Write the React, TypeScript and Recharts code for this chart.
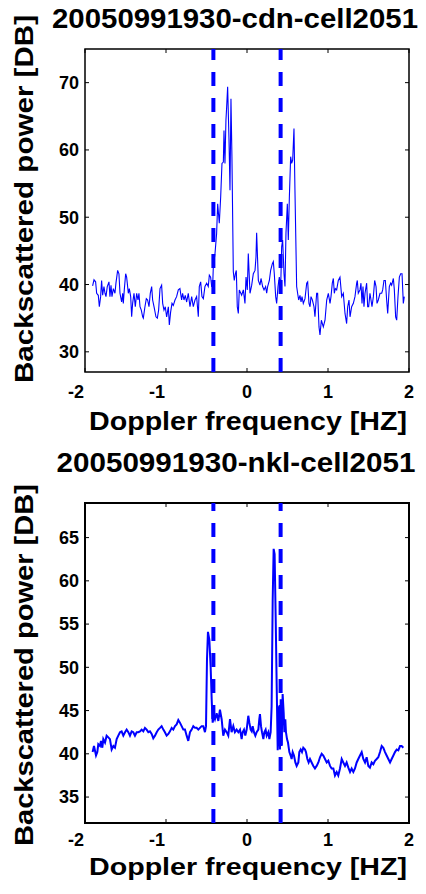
import React from "react"
import { LineChart, Line, XAxis, YAxis, ReferenceLine, ReferenceArea } from "recharts"

// top panel: cdn cell
const topFreq = [
  -1.906, -1.889, -1.869, -1.856, -1.836, -1.823, -1.807, -1.795, -1.782, -1.766,
  -1.753, -1.741, -1.725, -1.704, -1.692, -1.679, -1.667, -1.65, -1.63, -1.618,
  -1.597, -1.581, -1.568, -1.548, -1.535, -1.527, -1.515, -1.498, -1.486, -1.465,
  -1.453, -1.436, -1.424, -1.412, -1.395, -1.379, -1.362, -1.346, -1.334, -1.321,
  -1.305, -1.288, -1.28, -1.26, -1.243, -1.227, -1.21, -1.194, -1.177, -1.165,
  -1.148, -1.124, -1.107, -1.091, -1.074, -1.054, -1.041, -1.025, -1.009, -0.992,
  -0.971, -0.959, -0.943, -0.926, -0.91, -0.889, -0.869, -0.848, -0.828, -0.807,
  -0.795, -0.778, -0.762, -0.745, -0.725, -0.704, -0.683, -0.663, -0.642, -0.622,
  -0.601, -0.589, -0.572, -0.556, -0.539, -0.519, -0.498, -0.478, -0.465, -0.449,
  -0.436, -0.424, -0.416, -0.395, -0.375, -0.362, -0.342, -0.325, -0.309, -0.292,
  -0.284, -0.272, -0.26, -0.251, -0.239, -0.222, -0.21, -0.198, -0.186, -0.169,
  -0.157, -0.144, -0.132, -0.12, -0.107, -0.095, -0.066, -0.045, -0.025, -0.012,
  0.004, 0.016, 0.037, 0.058, 0.078, 0.099, 0.111, 0.119, 0.14, 0.16,
  0.173, 0.193, 0.21, 0.23, 0.243, 0.255, 0.276, 0.292, 0.313, 0.325,
  0.337, 0.354, 0.366, 0.383, 0.399, 0.416, 0.428, 0.44, 0.457, 0.469,
  0.481, 0.498, 0.51, 0.523, 0.539, 0.551, 0.564, 0.58, 0.592, 0.613,
  0.625, 0.638, 0.654, 0.667, 0.679, 0.695, 0.716, 0.737, 0.749, 0.765,
  0.778, 0.79, 0.807, 0.827, 0.839, 0.86, 0.872, 0.889, 0.901, 0.918,
  0.942, 0.963, 0.984, 1.004, 1.025, 1.037, 1.053, 1.066, 1.078, 1.09,
  1.107, 1.127, 1.148, 1.169, 1.189, 1.21, 1.23, 1.243, 1.259, 1.272,
  1.292, 1.313, 1.333, 1.354, 1.362, 1.374, 1.395, 1.407, 1.42, 1.432,
  1.444, 1.457, 1.477, 1.49, 1.502, 1.518, 1.531, 1.543, 1.56, 1.576,
  1.593, 1.605, 1.621, 1.642, 1.663, 1.675, 1.691, 1.708, 1.724, 1.737,
  1.757, 1.774, 1.786, 1.807, 1.819, 1.835, 1.848, 1.864, 1.881, 1.897,
  1.914, 1.93, 1.942,
]
const topPower = [
  39.8, 40.7, 40.4, 38.7, 38.4, 36.7, 38.2, 40.6, 38.4, 39.7,
  38.7, 38.2, 39.7, 40.4, 38.2, 39.9, 38.2, 39.4, 38.7, 40.2,
  42.1, 41.6, 38.7, 37.4, 38.7, 37.2, 39.2, 41.6, 41.1, 38.7,
  39.4, 38.2, 35.2, 37.2, 38.7, 36.7, 38.7, 37.7, 38.7, 36.7,
  36.2, 35.2, 35.0, 36.7, 37.9, 37.7, 36.7, 38.7, 39.7, 37.7,
  36.7, 35.2, 35.0, 36.2, 39.4, 39.9, 37.2, 36.2, 36.7, 35.2,
  36.7, 34.0, 35.9, 37.2, 36.9, 37.7, 38.2, 39.2, 39.4, 37.7,
  38.7, 37.7, 38.4, 37.4, 38.7, 36.7, 38.2, 36.7, 37.7, 38.2,
  35.2, 39.7, 40.4, 38.2, 37.9, 39.7, 40.2, 39.7, 41.4, 41.1,
  39.7, 39.7, 42.6, 44.6, 47.6, 52.0, 49.1, 53.0, 58.0, 58.2,
  62.9, 58.0, 64.4, 66.4, 69.4, 61.4, 54.0, 67.6, 59.0, 41.9,
  40.6, 41.6, 42.1, 36.7, 35.7, 39.2, 38.4, 39.2, 37.2, 41.1,
  39.2, 44.6, 38.7, 39.9, 41.6, 42.1, 44.1, 47.7, 40.6, 39.9,
  40.9, 39.7, 39.2, 39.7, 38.7, 39.7, 40.6, 42.1, 43.1, 43.4,
  41.6, 38.2, 37.2, 39.7, 41.1, 39.7, 45.6, 46.6, 41.6, 39.7,
  47.6, 52.0, 46.6, 53.0, 59.0, 58.0, 58.5, 63.2, 54.0, 39.7,
  38.7, 37.7, 38.4, 37.4, 38.2, 37.2, 37.9, 40.2, 40.4, 37.2,
  36.7, 38.2, 37.7, 36.7, 35.2, 38.7, 38.7, 33.7, 32.5, 34.7,
  33.7, 34.7, 37.7, 38.7, 37.2, 38.2, 40.2, 40.9, 38.7, 39.4,
  39.2, 40.6, 41.1, 38.2, 38.7, 35.7, 34.2, 36.7, 37.7, 35.2,
  36.7, 37.2, 38.2, 40.2, 40.6, 38.7, 39.2, 40.2, 37.2, 39.7,
  36.7, 38.7, 40.2, 36.7, 36.7, 38.7, 37.7, 36.7, 38.2, 40.6,
  39.7, 37.2, 37.7, 38.7, 38.7, 39.2, 40.6, 40.6, 37.7, 35.7,
  39.7, 40.2, 39.9, 40.9, 39.2, 35.2, 34.7, 38.2, 41.1, 41.6,
  41.6, 37.2, 38.2,
]

// bottom panel: nkl cell
const bottomFreq = [
  -1.906, -1.889, -1.864, -1.848, -1.836, -1.815, -1.803, -1.786, -1.774, -1.753,
  -1.733, -1.712, -1.692, -1.671, -1.65, -1.63, -1.609, -1.589, -1.568, -1.548,
  -1.527, -1.506, -1.486, -1.465, -1.445, -1.424, -1.404, -1.383, -1.362, -1.342,
  -1.321, -1.301, -1.28, -1.26, -1.239, -1.218, -1.198, -1.177, -1.157, -1.136,
  -1.115, -1.095, -1.074, -1.054, -1.033, -1.013, -0.992, -0.971, -0.951, -0.93,
  -0.91, -0.889, -0.869, -0.848, -0.828, -0.807, -0.786, -0.766, -0.745, -0.725,
  -0.704, -0.683, -0.663, -0.642, -0.622, -0.601, -0.581, -0.56, -0.539, -0.519,
  -0.506, -0.494, -0.482, -0.465, -0.449, -0.436, -0.424, -0.408, -0.395, -0.375,
  -0.354, -0.334, -0.313, -0.293, -0.272, -0.251, -0.231, -0.21, -0.19, -0.169,
  -0.149, -0.128, -0.107, -0.086, -0.066, -0.054, -0.037, -0.021, -0.004, 0.016,
  0.029, 0.045, 0.058, 0.07, 0.086, 0.103, 0.119, 0.14, 0.152, 0.16,
  0.173, 0.185, 0.202, 0.214, 0.23, 0.243, 0.263, 0.276, 0.292, 0.304,
  0.317, 0.329, 0.341, 0.354, 0.366, 0.379, 0.391, 0.399, 0.407, 0.416,
  0.428, 0.44, 0.453, 0.461, 0.473, 0.481, 0.494, 0.506, 0.523, 0.539,
  0.551, 0.564, 0.58, 0.597, 0.613, 0.634, 0.646, 0.663, 0.679, 0.695,
  0.716, 0.728, 0.745, 0.761, 0.778, 0.798, 0.819, 0.839, 0.86, 0.881,
  0.901, 0.922, 0.942, 0.963, 0.984, 1.004, 1.025, 1.045, 1.066, 1.086,
  1.107, 1.127, 1.148, 1.169, 1.189, 1.21, 1.23, 1.251, 1.272, 1.292,
  1.313, 1.333, 1.354, 1.374, 1.395, 1.416, 1.436, 1.457, 1.477, 1.498,
  1.518, 1.539, 1.56, 1.58, 1.601, 1.621, 1.642, 1.663, 1.683, 1.704,
  1.724, 1.745, 1.766, 1.786, 1.807, 1.827, 1.848, 1.868, 1.889, 1.909,
  1.93,
]
const bottomPower = [
  40.2, 40.9, 39.8, 40.2, 41.1, 40.9, 41.5, 40.7, 41.7, 41.3,
  42.1, 41.9, 41.7, 40.5, 40.9, 40.7, 41.7, 42.1, 42.5, 42.6,
  42.1, 42.5, 42.8, 42.5, 42.1, 42.6, 42.5, 42.1, 42.5, 42.5,
  42.6, 42.8, 42.6, 43.0, 42.8, 42.5, 42.6, 42.3, 41.8, 42.1,
  42.5, 42.8, 43.0, 43.2, 42.8, 42.5, 42.1, 42.3, 42.6, 43.0,
  42.8, 43.2, 43.4, 43.9, 43.6, 43.2, 42.8, 42.8, 42.1, 41.5,
  42.5, 42.8, 43.2, 43.0, 43.0, 42.8, 43.0, 43.2, 43.2, 42.5,
  43.2, 50.9, 54.1, 53.2, 50.1, 46.3, 43.6, 44.4, 44.0, 44.7,
  43.8, 45.1, 44.0, 42.1, 42.8, 42.5, 42.1, 44.0, 42.5, 43.2,
  42.5, 42.8, 42.5, 42.8, 41.7, 42.5, 42.8, 42.1, 42.8, 44.4,
  43.6, 42.8, 42.6, 43.2, 42.5, 42.1, 42.5, 42.8, 44.0, 44.6,
  43.2, 42.5, 41.7, 42.5, 42.8, 42.1, 42.5, 41.7, 42.5, 45.5,
  57.7, 63.7, 63.1, 55.8, 48.2, 40.4, 45.5, 42.5, 40.5, 46.3,
  40.9, 46.9, 44.7, 42.5, 44.0, 42.5, 41.7, 41.3, 40.2, 39.8,
  39.4, 40.2, 39.8, 39.0, 38.6, 39.0, 40.2, 40.5, 40.2, 40.7,
  40.5, 40.2, 39.4, 39.0, 39.4, 39.0, 38.6, 38.3, 38.6, 39.0,
  39.6, 40.0, 39.8, 39.4, 39.0, 39.2, 38.6, 38.3, 38.3, 37.5,
  37.9, 37.5, 38.3, 39.4, 39.0, 38.6, 39.0, 38.4, 37.9, 38.3,
  37.9, 38.3, 39.0, 39.4, 39.8, 40.2, 39.4, 39.0, 39.6, 38.6,
  38.4, 39.0, 38.8, 39.2, 39.4, 39.6, 40.2, 40.9, 40.7, 40.2,
  39.8, 39.4, 39.0, 39.4, 39.8, 40.2, 40.5, 40.4, 40.9, 40.9,
  40.7,
]

const freqTicks = [-2, -1, 0, 1, 2]
const topPowerTicks = [30, 40, 50, 60, 70]
const bottomPowerTicks = [35, 40, 45, 50, 55, 60, 65]
const markerFreqs = [-0.415, 0.415]

const topData = topFreq.map((f, i) => ({ f, p: topPower[i] }))
const bottomData = bottomFreq.map((f, i) => ({ f, p: bottomPower[i] }))

const FONT = "'Liberation Sans', Arial, Helvetica, sans-serif"
const BLUE = "#0000ff"
const W = 426
const H = 447
const AXIS = 20 // space given to each axis strip

const xTick = (plotTop: number, dy: number) => (props: any) => {
  const { x, y, payload } = props
  const v = payload.value
  return (
    <g>
      <line x1={x} x2={x} y1={y} y2={y - 4} stroke="#000" />
      <line x1={x} x2={x} y1={plotTop} y2={plotTop + 4} stroke="#000" />
      <text x={v < 0 ? x - 1 : x} y={y + dy} textAnchor={v < 0 ? "end" : "middle"}
        fontFamily={FONT} fontWeight="bold" fontSize={18} fill="#000">
        {String(v)}
      </text>
    </g>
  )
}

const yTick = (plotRight: number) => (props: any) => {
  const { x, y, payload } = props
  return (
    <g>
      <line x1={x} x2={x + 4} y1={y} y2={y} stroke="#000" />
      <line x1={plotRight - 4} x2={plotRight} y1={y} y2={y} stroke="#000" />
      <text x={x - 6} y={y} dy="0.35em" textAnchor="end"
        fontFamily={FONT} fontWeight="bold" fontSize={18} fill="#000">
        {payload.value}
      </text>
    </g>
  )
}

function Panel({ data, plot, yDomain, yTicks, lineWidth, boxWidth, dy }: any) {
  // plot = {top, bottom, left, right} in chart pixel coords
  const margin = {
    top: plot.top,
    right: W - plot.right,
    bottom: H - plot.bottom - AXIS,
    left: plot.left - AXIS,
  }
  return (
    <LineChart width={W} height={H} data={data} margin={margin}>
      <XAxis dataKey="f" type="number" domain={[-2, 2]} ticks={freqTicks} allowDataOverflow
        height={AXIS} axisLine={false} tickLine={false} tickSize={0} tickMargin={0}
        tick={xTick(plot.top, dy)} interval={0} />
      <YAxis type="number" domain={yDomain} ticks={yTicks} allowDataOverflow
        width={AXIS} axisLine={false} tickLine={false} tickSize={0} tickMargin={0}
        tick={yTick(plot.right)} interval={0} />
      <ReferenceArea x1={-2} x2={2} y1={yDomain[0]} y2={yDomain[1]}
        fill="none" stroke="#000" strokeWidth={boxWidth} fillOpacity={0} />
      <Line type="linear" dataKey="p" stroke={BLUE} strokeWidth={lineWidth}
        dot={false} isAnimationActive={false} />
      {markerFreqs.map((m) => (
        <ReferenceLine key={m} x={m} stroke={BLUE} strokeWidth={4} strokeDasharray="14 12" />
      ))}
    </LineChart>
  )
}

const textProps = { fontFamily: FONT, fontWeight: "bold" as const, fill: "#000", lengthAdjust: "spacingAndGlyphs" }

export default function App() {
  return (
    <div style={{ position: "absolute", left: 0, top: 0, width: W, height: 894, background: "#fff" }}>
      <Panel data={topData} plot={{ top: 49, bottom: 372, left: 85, right: 409 }}
        yDomain={[27, 75]} yTicks={topPowerTicks} lineWidth={1.1} boxWidth={1.5} dy={26} />
      <Panel data={bottomData} plot={{ top: 56, bottom: 376, left: 85, right: 409 }}
        yDomain={[32, 69]} yTicks={bottomPowerTicks} lineWidth={2} boxWidth={2} dy={23} />
      <svg width={W} height={894} style={{ position: "absolute", left: 0, top: 0, pointerEvents: "none" }}>
        <text x={235} y={28} textAnchor="middle" fontSize={27} textLength={366} {...textProps}>
          20050991930-cdn-cell2051
        </text>
        <text x={248} y={430} textAnchor="middle" fontSize={25} textLength={318} {...textProps}>
          Doppler frequency [HZ]
        </text>
        <text x={33} y={199} transform="rotate(-90 33 199)" textAnchor="middle" fontSize={25} textLength={368} {...textProps}>
          Backscattered power [DB]
        </text>
        <text x={236} y={472} textAnchor="middle" fontSize={27} textLength={359} {...textProps}>
          20050991930-nkl-cell2051
        </text>
        <text x={248} y={875} textAnchor="middle" fontSize={24} textLength={318} {...textProps}>
          Doppler frequency [HZ]
        </text>
        <text x={33} y={665} transform="rotate(-90 33 665)" textAnchor="middle" fontSize={25} textLength={362} {...textProps}>
          Backscattered power [DB]
        </text>
      </svg>
    </div>
  )
}
